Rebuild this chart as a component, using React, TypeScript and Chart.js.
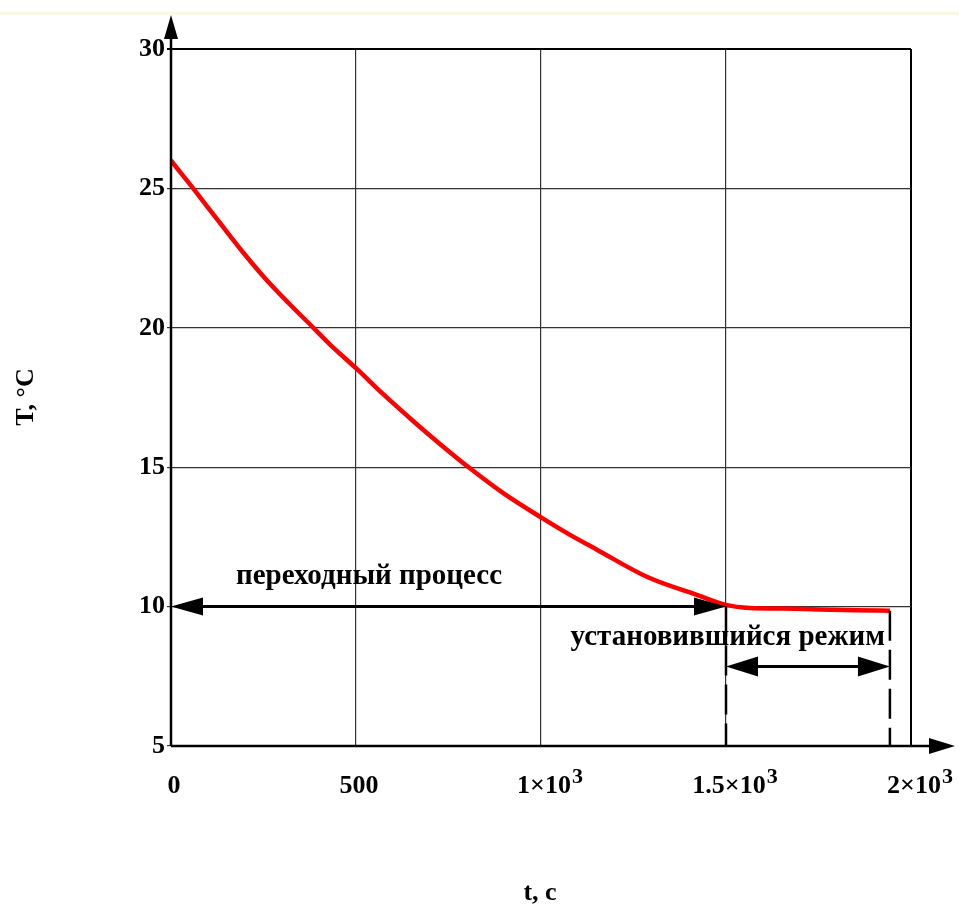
import React, { useEffect, useRef } from "react";
import { Chart, registerables } from "chart.js";

Chart.register(...registerables);

// ---- data ----
const timeS = [0, 60, 137, 200, 254, 317, 385, 430, 500, 575, 655, 730, 808, 900, 1000, 1075, 1150, 1286, 1421, 1500, 1565, 1650, 1750, 1850, 1943];
const tempC = [26.0, 25.0, 23.68, 22.62, 21.78, 20.9, 20.0, 19.4, 18.55, 17.6, 16.65, 15.8, 14.96, 14.05, 13.2, 12.6, 12.05, 11.07, 10.42, 10.06, 9.95, 9.93, 9.9, 9.87, 9.85];

const xTickValues = [0, 500, 1000, 1500, 2000];
const xTickBase = ["0", "500", "1×10", "1.5×10", "2×10"];
const xTickExp = ["", "", "3", "3", "3"];
const yTickValues = [5, 10, 15, 20, 25, 30];

const transientEnd = 1500;
const steadyEnd = 1943;
const transientLevel = 10;
const steadyLevel = 7.85;
const transientLabel = "переходный процесс";
const steadyLabel = "установившийся режим";
const xTitle = "t, c";
const yTitle = "T, °C";

const FONT = "'Liberation Serif', 'Times New Roman', serif";

function arrowHead(ctx: CanvasRenderingContext2D, tipX: number, tipY: number, dir: number, len: number, half: number, vertical = false) {
  ctx.beginPath();
  if (!vertical) {
    ctx.moveTo(tipX, tipY);
    ctx.lineTo(tipX - dir * len, tipY - half);
    ctx.lineTo(tipX - dir * len, tipY + half);
  } else {
    ctx.moveTo(tipX, tipY);
    ctx.lineTo(tipX - half, tipY - dir * len);
    ctx.lineTo(tipX + half, tipY - dir * len);
  }
  ctx.closePath();
  ctx.fill();
}

const decorPlugin = {
  id: "decor",
  afterDraw(chart: any) {
    const ctx: CanvasRenderingContext2D = chart.ctx;
    const xs = chart.scales.x;
    const ys = chart.scales.y;
    const area = chart.chartArea;
    ctx.save();

    // faint top strip
    ctx.fillStyle = "#fbf8e6";
    ctx.fillRect(0, 12, chart.width, 3);

    ctx.strokeStyle = "#000";
    ctx.fillStyle = "#000";

    // axes
    ctx.lineWidth = 2.5;
    ctx.beginPath();
    ctx.moveTo(area.left, area.bottom);
    ctx.lineTo(area.left, 30);
    ctx.stroke();
    arrowHead(ctx, area.left, 15, -1, 24, 7, true);

    ctx.beginPath();
    ctx.moveTo(area.left, area.bottom);
    ctx.lineTo(935, area.bottom);
    ctx.stroke();
    arrowHead(ctx, 955, area.bottom, 1, 26, 8);

    // dashed verticals
    ctx.lineWidth = 2.5;
    ctx.setLineDash([30, 9]);
    const xe1 = xs.getPixelForValue(transientEnd);
    const xe2 = xs.getPixelForValue(steadyEnd);
    ctx.beginPath();
    ctx.moveTo(xe1, ys.getPixelForValue(transientLevel));
    ctx.lineTo(xe1, area.bottom);
    ctx.stroke();
    ctx.beginPath();
    ctx.moveTo(xe2, ys.getPixelForValue(9.85));
    ctx.lineTo(xe2, area.bottom);
    ctx.stroke();
    ctx.setLineDash([]);

    // double arrows
    ctx.lineWidth = 3;
    const x0 = xs.getPixelForValue(0);
    const y1 = ys.getPixelForValue(transientLevel);
    ctx.beginPath();
    ctx.moveTo(x0 + 20, y1);
    ctx.lineTo(xe1 - 20, y1);
    ctx.stroke();
    arrowHead(ctx, x0, y1, -1, 32, 9);
    arrowHead(ctx, xe1, y1, 1, 32, 9);

    const y2 = ys.getPixelForValue(steadyLevel);
    ctx.beginPath();
    ctx.moveTo(xe1 + 20, y2);
    ctx.lineTo(xe2 - 20, y2);
    ctx.stroke();
    arrowHead(ctx, xe1, y2, -1, 32, 10);
    arrowHead(ctx, xe2, y2, 1, 32, 10);

    // annotation texts
    ctx.font = `bold 29px ${FONT}`;
    ctx.textBaseline = "alphabetic";
    ctx.textAlign = "center";
    ctx.fillText(transientLabel, 369, y1 - 23);
    ctx.textAlign = "right";
    ctx.fillText(steadyLabel, xe2 - 5, y2 - 22);

    // x tick labels with superscripts
    for (let i = 0; i < xTickValues.length; i++) {
      const px = xs.getPixelForValue(xTickValues[i]) + 3;
      ctx.font = `bold 26px ${FONT}`;
      const wBase = ctx.measureText(xTickBase[i]).width;
      ctx.textAlign = "left";
      const left = px - wBase / 2;
      ctx.fillText(xTickBase[i], left, area.bottom + 47);
      if (xTickExp[i]) {
        ctx.font = `bold 22px ${FONT}`;
        ctx.fillText(xTickExp[i], left + wBase + 1, area.bottom + 37);
      }
    }

    // axis titles
    ctx.font = `bold 26px ${FONT}`;
    ctx.textAlign = "center";
    ctx.fillText(xTitle, 540, 900);
    ctx.save();
    ctx.translate(33, 397);
    ctx.rotate(-Math.PI / 2);
    ctx.fillText(yTitle, 0, 0);
    ctx.restore();

    ctx.restore();
  },
};

export default function App() {
  const ref = useRef<HTMLCanvasElement | null>(null);
  useEffect(() => {
    document.body.style.margin = "0";
    const canvas = ref.current!;
    const edgeX = (c: any) => (c.tick && (c.tick.value === 2000) ? "#000" : "#333");
    const edgeY = (c: any) => (c.tick && (c.tick.value === 30) ? "#000" : "#333");
    const chart = new Chart(canvas, {
      type: "scatter",
      data: {
        datasets: [
          {
            data: timeS.map((t, i) => ({ x: t, y: tempC[i] })),
            showLine: true,
            borderColor: "#ff0000",
            backgroundColor: "#ff0000",
            borderWidth: 4.5,
            pointRadius: 0,
            cubicInterpolationMode: "monotone",
          } as any,
        ],
      },
      options: {
        animation: false,
        responsive: false,
        maintainAspectRatio: false,
        layout: { padding: { top: 49, right: 48, left: 0, bottom: 0 } },
        plugins: { legend: { display: false }, tooltip: { enabled: false } },
        scales: {
          x: {
            type: "linear",
            min: 0,
            max: 2000,
            afterBuildTicks: (s: any) => {
              s.ticks = xTickValues.map((v) => ({ value: v }));
            },
            afterFit: (s: any) => {
              s.height = 159;
            },
            ticks: { display: false },
            border: { display: false },
            grid: {
              drawTicks: false,
              color: edgeX,
              lineWidth: (c: any) => (c.tick && c.tick.value === 2000 ? 2 : 1.2),
            },
          },
          y: {
            type: "linear",
            min: 5,
            max: 30,
            afterBuildTicks: (s: any) => {
              s.ticks = yTickValues.map((v) => ({ value: v }));
            },
            afterFit: (s: any) => {
              s.width = 171;
            },
            ticks: {
              color: "#000",
              padding: 2,
              font: { family: FONT, size: 26, weight: "bold" },
            },
            border: { display: false },
            grid: {
              drawTicks: true,
              tickLength: 4,
              color: edgeY,
              lineWidth: (c: any) => (c.tick && c.tick.value === 30 ? 2 : 1.2),
            },
          },
        },
      } as any,
      plugins: [decorPlugin],
    });
    return () => chart.destroy();
  }, []);
  return <canvas ref={ref} width={959} height={905} style={{ display: "block", width: 959, height: 905 }} />;
}
